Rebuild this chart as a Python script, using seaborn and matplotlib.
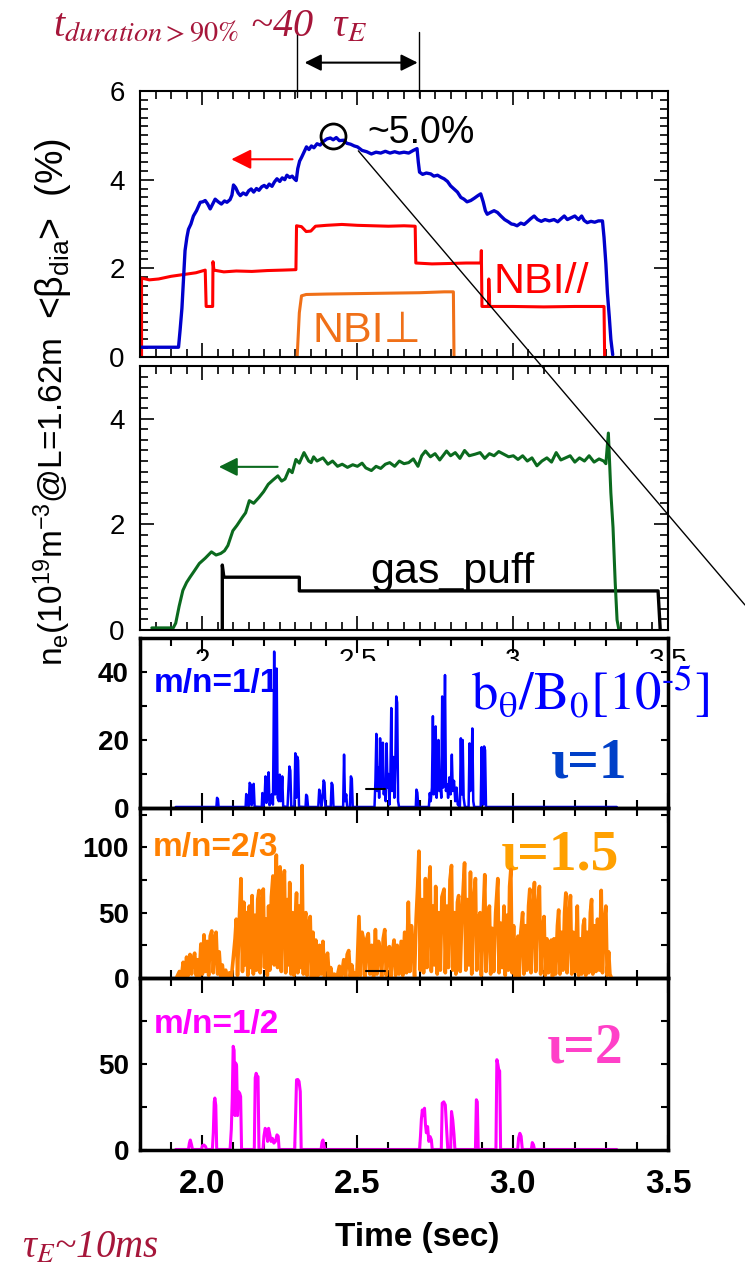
import matplotlib
matplotlib.use("Agg")
import matplotlib.pyplot as plt
import seaborn as sns
from matplotlib.patches import ConnectionPatch
from matplotlib.ticker import MultipleLocator, FixedLocator
from matplotlib.transforms import Bbox, TransformedBbox

# ---- values ----
# top panel: <beta_dia> (%) and NBI power traces
beta_t = [1.800, 1.924, 1.929, 1.935, 1.940, 1.945, 1.951, 1.956, 1.964, 1.972, 1.982, 1.994, 2.002,
          2.010, 2.018, 2.026, 2.034, 2.042, 2.052, 2.062, 2.072, 2.080, 2.090, 2.096, 2.101, 2.108,
          2.116, 2.123, 2.132, 2.142, 2.150, 2.158, 2.166, 2.175, 2.183, 2.192, 2.200, 2.208, 2.216,
          2.225, 2.233, 2.241, 2.250, 2.258, 2.266, 2.273, 2.282, 2.290, 2.297, 2.303, 2.308, 2.314,
          2.320, 2.328, 2.336, 2.344, 2.352, 2.360, 2.370, 2.380, 2.390, 2.402, 2.413, 2.422, 2.432,
          2.442, 2.456, 2.466, 2.478, 2.490, 2.500, 2.515, 2.530, 2.545, 2.560, 2.575, 2.590, 2.605,
          2.620, 2.635, 2.650, 2.665, 2.680, 2.692, 2.696, 2.700, 2.710, 2.722, 2.736, 2.746, 2.758,
          2.770, 2.779, 2.790, 2.800, 2.811, 2.822, 2.833, 2.843, 2.853, 2.865, 2.876, 2.888, 2.897,
          2.905, 2.912, 2.918, 2.928, 2.940, 2.951, 2.962, 2.974, 2.986, 2.996, 3.004, 3.014, 3.026,
          3.037, 3.047, 3.058, 3.069, 3.080, 3.092, 3.104, 3.118, 3.133, 3.145, 3.156, 3.166, 3.176,
          3.188, 3.200, 3.212, 3.222, 3.230, 3.240, 3.252, 3.264, 3.276, 3.289, 3.294, 3.300, 3.305,
          3.311, 3.316, 3.322]
beta_v = [0.22, 0.22, 0.6, 1.1, 1.75, 2.4, 2.7, 2.88, 3.0, 3.18, 3.3, 3.49, 3.5,
          3.53, 3.45, 3.34, 3.45, 3.56, 3.5, 3.45, 3.52, 3.49, 3.55, 3.65, 3.88, 3.82,
          3.7, 3.64, 3.7, 3.66, 3.75, 3.79, 3.72, 3.8, 3.76, 3.84, 3.87, 3.82, 3.9,
          3.85, 3.95, 4.02, 3.96, 4.04, 4.0, 4.1, 4.05, 4.08, 4.02, 3.98, 4.25, 4.42,
          4.5, 4.62, 4.74, 4.68, 4.76, 4.72, 4.81, 4.78, 4.86, 4.92, 4.94, 4.9, 4.95,
          4.88, 4.89, 4.82, 4.8, 4.76, 4.74, 4.66, 4.63, 4.58, 4.62, 4.6, 4.64, 4.6,
          4.63, 4.6, 4.62, 4.6, 4.66, 4.7, 4.4, 4.17, 4.12, 4.15, 4.13, 4.08, 4.1,
          4.05, 4.02, 3.96, 3.86, 3.79, 3.72, 3.6, 3.56, 3.5, 3.53, 3.58, 3.64, 3.68,
          3.5, 3.3, 3.22, 3.26, 3.3, 3.26, 3.18, 3.1, 3.05, 3.0, 2.99, 2.96, 3.02,
          2.99, 3.05, 3.12, 3.18, 3.1, 3.06, 3.1, 3.07, 3.1, 3.05, 3.12, 3.18, 3.1,
          3.14, 3.18, 3.1, 3.18, 3.08, 3.03, 3.06, 3.04, 3.07, 3.07, 2.7, 2.1, 1.44,
          0.9, 0.4, 0.05]

nbi_par_t = [1.797, 1.797, 1.800, 1.800, 1.805, 1.805, 1.830, 1.860, 1.900, 1.940, 1.980, 2.010, 2.013,
             2.034, 2.035, 2.038, 2.070, 2.110, 2.160, 2.210, 2.260, 2.302, 2.304, 2.320, 2.335, 2.350,
             2.365, 2.400, 2.450, 2.500, 2.550, 2.600, 2.650, 2.686, 2.688, 2.740, 2.800, 2.850, 2.898,
             2.899, 2.901, 2.922, 2.923, 2.926, 3.000, 3.100, 3.200, 3.294, 3.296]
nbi_par_v = [0.0, 1.0, 1.0, 0.0, 0.0, 1.78, 1.74, 1.76, 1.82, 1.86, 1.9, 1.96, 1.14,
             1.14, 2.15, 1.96, 1.92, 1.94, 1.93, 1.95, 1.96, 1.97, 2.96, 2.94, 2.83, 2.84,
             2.95, 2.97, 2.99, 2.97, 2.96, 2.95, 2.96, 2.95, 2.12, 2.1, 2.11, 2.12, 2.12,
             2.4, 1.14, 1.14, 1.76, 1.14, 1.14, 1.13, 1.14, 1.14, 0.0]

nbi_perp_t = [2.306, 2.313, 2.320, 2.335, 2.400, 2.500, 2.600, 2.700, 2.780, 2.809, 2.811]
nbi_perp_v = [0.0, 1.0, 1.38, 1.41, 1.42, 1.43, 1.44, 1.45, 1.47, 1.47, 0.0]

# middle panel: line density and gas puff
ne_t = [1.838, 1.907, 1.915, 1.926, 1.938, 1.950, 1.961, 1.975, 1.991, 2.010, 2.030, 2.045, 2.060,
        2.072, 2.083, 2.099, 2.112, 2.129, 2.140, 2.152, 2.166, 2.183, 2.198, 2.213, 2.228, 2.244,
        2.256, 2.267, 2.280, 2.290, 2.302, 2.313, 2.328, 2.343, 2.351, 2.359, 2.370, 2.389, 2.405,
        2.420, 2.436, 2.451, 2.468, 2.485, 2.500, 2.515, 2.527, 2.545, 2.560, 2.575, 2.590, 2.604,
        2.620, 2.635, 2.650, 2.665, 2.680, 2.695, 2.707, 2.719, 2.735, 2.750, 2.765, 2.787, 2.800,
        2.815, 2.830, 2.845, 2.860, 2.879, 2.895, 2.910, 2.925, 2.940, 2.955, 2.971, 2.987, 3.002,
        3.017, 3.032, 3.047, 3.062, 3.078, 3.094, 3.110, 3.125, 3.140, 3.155, 3.170, 3.185, 3.200,
        3.215, 3.231, 3.246, 3.262, 3.278, 3.293, 3.300, 3.308, 3.316, 3.323, 3.330, 3.336, 3.342]
ne_v = [0.04, 0.04, 0.13, 0.45, 0.75, 0.9, 1.0, 1.12, 1.26, 1.36, 1.48, 1.42, 1.45,
        1.5, 1.6, 1.88, 1.98, 2.13, 2.22, 2.45, 2.4, 2.51, 2.62, 2.76, 2.84, 2.92,
        2.82, 2.86, 3.04, 2.98, 3.23, 3.16, 3.36, 3.2, 3.17, 3.28, 3.2, 3.26, 3.14,
        3.2, 3.1, 3.14, 3.08, 3.13, 3.1, 3.16, 3.07, 3.02, 3.1, 3.06, 3.14, 3.17,
        3.1, 3.2, 3.15, 3.17, 3.24, 3.1, 3.3, 3.39, 3.28, 3.34, 3.22, 3.39, 3.3,
        3.36, 3.25, 3.4, 3.3, 3.33, 3.36, 3.25, 3.34, 3.3, 3.38, 3.33, 3.28, 3.3,
        3.23, 3.3, 3.2, 3.26, 3.11, 3.2, 3.26, 3.18, 3.36, 3.22, 3.26, 3.3, 3.18,
        3.26, 3.2, 3.3, 3.18, 3.24, 3.2, 3.15, 3.73, 2.6, 1.94, 0.9, 0.19, 0.0]

gas_t = [2.065, 2.065, 2.070, 2.313, 2.313, 3.468, 3.475]
gas_v = [0.0, 1.23, 1.0, 1.0, 0.74, 0.74, 0.0]

# bottom panels: b_theta/B0 [1e-5] for m/n = 1/1, 2/3, 1/2
mode11_t = [1.915, 2.046, 2.048, 2.051, 2.053, 2.140, 2.142, 2.145, 2.150, 2.153, 2.157, 2.159, 2.163,
            2.166, 2.169, 2.192, 2.194, 2.197, 2.201, 2.204, 2.207, 2.211, 2.214, 2.217, 2.221, 2.224,
            2.228, 2.230, 2.232, 2.235, 2.238, 2.240, 2.243, 2.247, 2.250, 2.253, 2.256, 2.258, 2.261,
            2.275, 2.278, 2.281, 2.284, 2.287, 2.297, 2.300, 2.303, 2.306, 2.309, 2.312, 2.333, 2.335,
            2.338, 2.341, 2.374, 2.377, 2.380, 2.384, 2.388, 2.391, 2.394, 2.397, 2.414, 2.417, 2.420,
            2.423, 2.454, 2.457, 2.460, 2.464, 2.467, 2.476, 2.479, 2.482, 2.485, 2.555, 2.558, 2.561,
            2.564, 2.567, 2.570, 2.573, 2.576, 2.579, 2.582, 2.585, 2.588, 2.591, 2.594, 2.597, 2.600,
            2.603, 2.606, 2.609, 2.612, 2.616, 2.619, 2.622, 2.625, 2.628, 2.631, 2.634, 2.688, 2.690,
            2.693, 2.696, 2.730, 2.733, 2.736, 2.740, 2.743, 2.746, 2.749, 2.752, 2.755, 2.758, 2.761,
            2.764, 2.767, 2.770, 2.773, 2.776, 2.779, 2.782, 2.785, 2.789, 2.792, 2.796, 2.800, 2.804,
            2.807, 2.811, 2.815, 2.819, 2.823, 2.830, 2.833, 2.836, 2.839, 2.842, 2.846, 2.858, 2.861,
            2.864, 2.867, 2.870, 2.873, 2.876, 2.897, 2.900, 2.903, 2.906, 2.908, 2.911, 2.914, 3.335]
mode11_v = [0.3, 0.3, 3.0, 2.6, 0.3, 0.3, 4.1, 1.0, 0.5, 7.4, 6.8, 0.8, 2.0,
            7.1, 0.4, 0.3, 4.4, 0.6, 2.5, 9.3, 1.5, 3.0, 10.5, 0.8, 2.0, 4.0,
            1.0, 20.0, 46.0, 4.0, 8.0, 41.0, 3.0, 2.0, 9.8, 2.0, 5.0, 9.3, 0.5,
            0.3, 6.0, 12.2, 11.0, 0.5, 0.3, 16.1, 3.0, 15.1, 14.0, 0.4, 0.3, 3.9,
            3.5, 0.3, 0.3, 5.4, 4.0, 0.5, 3.0, 8.1, 7.5, 0.4, 0.3, 7.4, 6.8,
            0.3, 0.3, 15.7, 2.0, 4.0, 0.3, 0.3, 9.3, 8.5, 0.3, 0.3, 8.0, 21.8,
            5.0, 12.0, 3.0, 20.5, 6.0, 10.0, 19.2, 4.0, 8.0, 2.0, 19.0, 6.0, 10.0,
            1.0, 8.0, 29.4, 5.0, 15.0, 3.0, 12.0, 32.8, 31.0, 2.0, 0.3, 0.3, 5.4,
            4.5, 0.3, 0.3, 4.4, 2.0, 6.0, 27.0, 4.0, 10.0, 24.0, 3.0, 8.0, 20.0,
            5.0, 8.0, 3.0, 32.8, 6.0, 12.0, 39.1, 5.0, 7.0, 3.0, 9.0, 4.0, 15.7,
            5.0, 8.0, 2.0, 6.0, 1.0, 0.3, 20.5, 4.0, 20.0, 3.0, 0.3, 0.3, 19.0,
            5.0, 8.0, 23.4, 2.0, 0.3, 0.3, 17.9, 6.0, 1.0, 18.1, 17.0, 0.3, 0.3]

mode23_t = [1.917, 1.927, 1.933, 1.939, 1.944, 1.950, 1.955, 1.961, 1.966, 1.971, 1.976, 1.981, 1.986,
            1.991, 1.996, 2.001, 2.006, 2.011, 2.016, 2.021, 2.026, 2.031, 2.036, 2.041, 2.045, 2.050,
            2.055, 2.060, 2.065, 2.070, 2.076, 2.082, 2.088, 2.094, 2.099, 2.106, 2.110, 2.114, 2.119,
            2.125, 2.130, 2.134, 2.138, 2.143, 2.147, 2.152, 2.156, 2.161, 2.165, 2.170, 2.175, 2.179,
            2.183, 2.187, 2.192, 2.197, 2.201, 2.206, 2.210, 2.214, 2.218, 2.223, 2.228, 2.232, 2.236,
            2.239, 2.243, 2.247, 2.251, 2.255, 2.260, 2.265, 2.269, 2.274, 2.278, 2.282, 2.286, 2.291,
            2.296, 2.300, 2.304, 2.308, 2.313, 2.317, 2.322, 2.326, 2.330, 2.334, 2.338, 2.343, 2.348,
            2.352, 2.357, 2.362, 2.366, 2.373, 2.378, 2.383, 2.389, 2.394, 2.399, 2.404, 2.409, 2.414,
            2.419, 2.426, 2.434, 2.442, 2.448, 2.456, 2.462, 2.467, 2.472, 2.477, 2.482, 2.488, 2.493,
            2.498, 2.505, 2.510, 2.515, 2.520, 2.525, 2.530, 2.535, 2.540, 2.546, 2.552, 2.558, 2.563,
            2.568, 2.573, 2.578, 2.583, 2.588, 2.593, 2.598, 2.603, 2.608, 2.613, 2.618, 2.623, 2.628,
            2.634, 2.641, 2.646, 2.652, 2.658, 2.664, 2.669, 2.674, 2.679, 2.684, 2.689, 2.694, 2.698,
            2.702, 2.708, 2.713, 2.719, 2.724, 2.729, 2.734, 2.738, 2.743, 2.748, 2.752, 2.757, 2.762,
            2.767, 2.772, 2.779, 2.783, 2.788, 2.793, 2.798, 2.803, 2.807, 2.812, 2.817, 2.822, 2.826,
            2.831, 2.836, 2.841, 2.845, 2.849, 2.854, 2.859, 2.864, 2.868, 2.873, 2.880, 2.884, 2.889,
            2.895, 2.899, 2.904, 2.910, 2.914, 2.919, 2.925, 2.929, 2.934, 2.939, 2.945, 2.952, 2.956,
            2.961, 2.966, 2.972, 2.976, 2.981, 2.986, 2.990, 2.994, 2.998, 3.003, 3.008, 3.013, 3.017,
            3.021, 3.026, 3.032, 3.036, 3.041, 3.046, 3.051, 3.055, 3.059, 3.064, 3.070, 3.074, 3.079,
            3.086, 3.090, 3.095, 3.101, 3.105, 3.110, 3.115, 3.120, 3.124, 3.128, 3.133, 3.138, 3.144,
            3.148, 3.152, 3.157, 3.162, 3.167, 3.171, 3.175, 3.181, 3.186, 3.190, 3.195, 3.201, 3.208,
            3.212, 3.217, 3.222, 3.227, 3.231, 3.235, 3.240, 3.245, 3.250, 3.254, 3.258, 3.263, 3.268,
            3.273, 3.279, 3.285, 3.289, 3.294, 3.300, 3.304, 3.309, 3.313, 3.318]
mode23_v = [0, 5, 0, 12, 1, 16, 2, 18, 3, 15, 19, 2, 14,
            1, 26, 3, 33, 5, 28, 2, 32, 36, 4, 30, 35, 3,
            20, 1, 10, 0, 6, 0, 4, 0, 12, 30, 45, 2, 40,
            76, 5, 58, 10, 50, 2, 55, 8, 63, 3, 48, 6, 60,
            67, 4, 52, 68, 8, 45, 2, 55, 6, 62, 78, 10, 70,
            94, 8, 75, 85, 5, 66, 82, 4, 60, 10, 73, 3, 50,
            2, 45, 65, 4, 55, 8, 86, 3, 45, 50, 2, 40, 47,
            1, 35, 1, 29, 2, 25, 3, 28, 0, 15, 19, 0, 8,
            0, 3, 0, 9, 0, 14, 1, 18, 21, 1, 10, 0, 4,
            0, 47, 2, 35, 29, 1, 30, 34, 3, 25, 1, 37, 3,
            28, 21, 1, 30, 37, 2, 22, 24, 1, 20, 29, 2, 25,
            3, 28, 2, 35, 4, 58, 5, 40, 24, 1, 45, 70, 97,
            6, 60, 4, 76, 8, 65, 85, 5, 55, 10, 70, 3, 50,
            6, 62, 68, 4, 55, 8, 75, 86, 6, 50, 3, 58, 63,
            5, 45, 70, 88, 6, 60, 10, 81, 3, 55, 76, 6, 45,
            50, 2, 40, 79, 5, 42, 55, 3, 38, 5, 50, 76, 4,
            42, 8, 55, 2, 48, 6, 70, 83, 4, 40, 1, 25, 32,
            1, 35, 50, 3, 40, 6, 55, 68, 4, 45, 73, 5, 50,
            70, 3, 35, 47, 2, 30, 4, 25, 29, 1, 30, 3, 40,
            52, 3, 35, 6, 50, 65, 4, 45, 63, 3, 35, 5, 55,
            2, 30, 3, 40, 45, 2, 35, 4, 50, 60, 3, 40, 5,
            45, 6, 67, 4, 40, 55, 2, 20, 3, 0]

mode12_t = [1.915, 1.956, 1.959, 1.962, 1.966, 1.969, 1.998, 2.001, 2.006, 2.011, 2.014, 2.033, 2.036,
            2.039, 2.041, 2.044, 2.047, 2.090, 2.094, 2.097, 2.100, 2.103, 2.106, 2.108, 2.111, 2.114,
            2.117, 2.121, 2.124, 2.127, 2.168, 2.171, 2.174, 2.177, 2.180, 2.183, 2.196, 2.199, 2.203,
            2.207, 2.211, 2.214, 2.218, 2.222, 2.226, 2.231, 2.236, 2.241, 2.245, 2.248, 2.298, 2.301,
            2.304, 2.308, 2.312, 2.316, 2.319, 2.383, 2.386, 2.389, 2.392, 2.395, 2.700, 2.703, 2.706,
            2.709, 2.712, 2.716, 2.719, 2.722, 2.726, 2.730, 2.734, 2.738, 2.741, 2.770, 2.773, 2.778,
            2.783, 2.788, 2.791, 2.800, 2.803, 2.807, 2.811, 2.814, 2.880, 2.883, 2.886, 2.889, 2.946,
            2.949, 2.952, 2.955, 2.958, 2.961, 3.016, 3.019, 3.023, 3.027, 3.031, 3.060, 3.063, 3.067,
            3.070, 3.335]
mode12_v = [0.3, 0.3, 4.0, 5.8, 3.0, 0.3, 0.3, 2.5, 2.9, 2.0, 0.3, 0.3, 10.0,
            28.0, 30.2, 26.0, 0.3, 0.3, 12.0, 30.0, 60.3, 58.0, 20.0, 50.6, 49.0, 20.0,
            34.0, 33.0, 31.0, 0.3, 0.3, 42.0, 44.6, 43.0, 42.6, 0.3, 0.3, 8.0, 12.6,
            11.0, 5.0, 12.6, 9.0, 5.0, 6.8, 4.0, 5.0, 8.8, 8.0, 0.3, 0.3, 20.0,
            40.8, 41.0, 39.9, 34.0, 0.3, 0.3, 4.5, 5.8, 3.0, 0.3, 0.3, 8.0, 18.0,
            23.3, 20.0, 24.3, 15.0, 10.0, 13.6, 5.0, 7.8, 6.0, 0.3, 0.3, 27.2, 28.0,
            26.2, 9.7, 0.3, 0.3, 22.4, 17.5, 9.0, 0.3, 0.3, 29.2, 28.0, 0.3, 0.3,
            52.5, 50.0, 46.7, 46.0, 0.3, 0.3, 7.0, 9.7, 8.0, 0.3, 0.3, 4.3, 3.0,
            0.3, 0.3]

mark_t = [2.527, 2.588]
mark_v = [5.6, 5.6]

# ---- style ----
sns.set_theme(style="ticks", rc={"text.color": "black", "axes.edgecolor": "black",
                                 "xtick.color": "black", "ytick.color": "black",
                                 "axes.labelcolor": "black"})
plt.rcParams["font.family"] = ["Liberation Sans", "DejaVu Sans"]
plt.rcParams["mathtext.fontset"] = "custom"
plt.rcParams["mathtext.rm"] = "Liberation Sans"
plt.rcParams["mathtext.it"] = "Liberation Sans:italic"
plt.rcParams["mathtext.bf"] = "Liberation Sans:bold"

DARKRED = "#a6163a"
SERIF_IT = dict(family="Liberation Serif", style="italic", math_fontfamily="stix", color=DARKRED)

W, H = 745, 1268
fig = plt.figure(figsize=(W / 100, H / 100), dpi=100)
fig.patch.set_facecolor("white")


def box(l, t, r, b):
    return [l / W, 1 - b / H, (r - l) / W, (b - t) / H]


def trace(ax, t, v, color, lw, **kw):
    sns.lineplot(x=t, y=v, ax=ax, color=color, lw=lw, estimator=None,
                 sort=False, errorbar=None, legend=False, **kw)


ax1 = fig.add_axes(box(140, 91, 668, 357))
ax2 = fig.add_axes(box(140, 366, 668, 630))
ax3 = fig.add_axes(box(140, 638, 668, 808))
ax4 = fig.add_axes(box(140, 808, 668, 978))
ax5 = fig.add_axes(box(140, 978, 668, 1150))

# ---- upper two panels ----
trace(ax1, nbi_perp_t, nbi_perp_v, "#f07018", 2.2)
trace(ax1, nbi_par_t, nbi_par_v, "#ff0000", 2.2)
trace(ax1, beta_t, beta_v, "#0000cc", 2.4)
trace(ax2, gas_t, gas_v, "black", 2.4)
trace(ax2, ne_t, ne_v, "#0b6a1e", 2.2)

for ax, top in ((ax1, 6), (ax2, 5)):
    ax.set_xlim(1.8, 3.5)
    ax.set_ylim(0, top)
    ax.set_xlabel("")
    ax.set_ylabel("")
    ax.xaxis.set_major_locator(MultipleLocator(0.5))
    ax.xaxis.set_minor_locator(MultipleLocator(0.05))
    ax.yaxis.set_major_locator(MultipleLocator(2))
    ax.yaxis.set_minor_locator(MultipleLocator(0.2))
    ax.tick_params(which="both", direction="in", top=True, right=True, width=1.2)
    ax.tick_params(which="major", length=10, labelsize=20, pad=11)
    ax.tick_params(which="minor", length=6)
    for s in ax.spines.values():
        s.set_linewidth(1.5)

ax1.tick_params(labelbottom=False)
ax2.set_xticks([2, 2.5, 3, 3.5], labels=["2", "2.5", "3", "3.5"])
ax2.tick_params(axis="x", which="major", pad=13)
clip = TransformedBbox(Bbox([[0, 1 - 661 / H], [1, 1 - 632 / H]]), fig.transFigure)
for lab in ax2.get_xticklabels():
    lab.set_clip_box(clip)
    lab.set_clip_on(True)

# annotations, top panel
ax1.plot([2.42], [4.99], marker="o", ms=18, mfc="none", mec="black", mew=2)
ax1.text(2.532, 4.83, "~5.0%", fontsize=27)
ax1.annotate("", xy=(2.085, 4.46), xytext=(2.30, 4.46),
             arrowprops=dict(arrowstyle="-|>", color="red", lw=1.5, mutation_scale=30))
ax1.text(2.939, 1.44, "NBI//", color="red", fontsize=31)
ax1.text(2.355, 0.34, "NBI⊥", color="#f07018", fontsize=31,
         family=["Liberation Sans", "DejaVu Sans"])
for xv in (2.306, 2.697):
    ax1.plot([xv, xv], [5.87, 7.34], color="black", lw=1, clip_on=False)
ax1.annotate("", xy=(2.33, 6.64), xytext=(2.694, 6.64), annotation_clip=False,
             arrowprops=dict(arrowstyle="<|-|>", color="black", lw=1.5,
                             mutation_scale=25, shrinkA=0, shrinkB=0))
fig.add_artist(ConnectionPatch(xyA=(2.503, 4.65), coordsA=ax1.transData,
                               xyB=(1.0, 1 - 605 / H), coordsB=fig.transFigure,
                               color="black", lw=1))

# annotations, middle panel
ax2.annotate("", xy=(2.045, 3.09), xytext=(2.252, 3.09),
             arrowprops=dict(arrowstyle="-|>", color="#0b6a1e", lw=1.5, mutation_scale=28))
ax2.text(2.542, 0.89, "gas_puff", fontsize=31)

fig.text(63 / W, 1 - 229 / H, r"<β$_{\mathrm{dia}}$>  (%)", rotation=90, rotation_mode="anchor",
         ha="center", va="baseline", fontsize=27)
fig.text(63 / W, 1 - 502 / H, r"n$_{\mathrm{e}}$(10$^{19}$m$^{-3}$@L=1.62m", rotation=90,
         rotation_mode="anchor", ha="center", va="baseline", fontsize=24)

fig.text(53 / W, 1 - 36 / H, r"t$_{\mathit{duration>90\%}}$ ~40  τ$_{\mathit{E}}$",
         fontsize=29, **SERIF_IT)
fig.text(22 / W, 1 - 1258 / H, r"τ$_{\mathit{E}}$~10ms", fontsize=28, **SERIF_IT)

# ---- lower three panels ----
trace(ax3, mode11_t, mode11_v, "#0000ff", 1.8)
trace(ax3, mark_t, mark_v, "black", 1.5)
trace(ax4, mode23_t, mode23_v, "#ff8000", 2.6, zorder=3)
trace(ax4, mark_t, mark_v, "black", 1.5, zorder=4)
trace(ax5, mode12_t, mode12_v, "#ff00ff", 2.2)

yspec = {ax3: (50, [0, 20, 40], [10, 30]),
         ax4: (130, [0, 50, 100], [25, 75, 125]),
         ax5: (100, [0, 50], [25, 75])}
for ax, (top, major, minor) in yspec.items():
    ax.set_facecolor("none")
    ax.set_xlim(1.8, 3.5)
    ax.set_ylim(0, top)
    ax.set_xlabel("")
    ax.set_ylabel("")
    ax.set_yticks(major, labels=[str(m) for m in major], fontsize=20, fontweight="bold")
    ax.yaxis.set_minor_locator(FixedLocator(minor))
    ax.xaxis.set_major_locator(MultipleLocator(0.5))
    ax.xaxis.set_minor_locator(MultipleLocator(0.1))
    ax.tick_params(axis="x", which="both", direction="in", top=True, bottom=True, width=1.5)
    ax.tick_params(axis="x", which="major", length=11)
    ax.tick_params(axis="x", which="minor", length=6)
    ax.tick_params(axis="y", which="both", direction="in", left=True, right=True,
                   length=5, width=1.5, pad=8)
    for s in ax.spines.values():
        s.set_linewidth(2.5)
    if ax is not ax5:
        ax.tick_params(labelbottom=False)

ax5.set_xticks([2.0, 2.5, 3.0, 3.5], labels=["2.0", "2.5", "3.0", "3.5"],
               fontsize=24, fontweight="bold")
ax5.tick_params(axis="x", which="major", pad=14)
ax5.set_xlabel("Time (sec)", fontsize=24, fontweight="bold")
ax5.xaxis.set_label_coords(0.525, -0.42)

bold_lab = dict(fontsize=24, fontweight="bold")
ax3.text(1.845, 34, "m/n=1/1", color="#0000ff", **bold_lab)
ax4.text(1.842, 93, "m/n=2/3", color="#ff8000", **bold_lab)
ax5.text(1.845, 68, "m/n=1/2", color="#ff00ff", **bold_lab)

ax3.text(2.865, 28.8, r"$\mathrm{b_{\theta}/B_0[10^{‐5}]}$", math_fontfamily="stix",
         fontsize=38, color="#0000ff")
iota = dict(fontsize=40, fontweight="bold", family="Liberation Serif")
ax3.text(3.123, 9.1, "ι=1", color="#0040c8", **iota)
ax4.text(2.961, 83, "ι=1.5", color="#ffa000", zorder=1, **iota)
ax5.text(3.11, 51, "ι=2", color="#ff40c8", **iota)

fig.savefig("out.png", dpi=100)
